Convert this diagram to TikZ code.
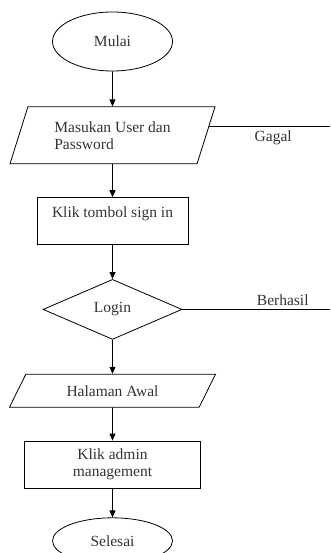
\documentclass[tikz,border=0pt]{standalone}
\usepackage{fontspec}
\setmainfont{Liberation Serif}
\usepackage{tikz}
\usetikzlibrary{arrows.meta, positioning, shapes.geometric, calc}
\tikzset{%
	term/.style={draw, ellipse, minimum width=120pt, minimum height=59pt, inner sep=0pt},
	io/.style={draw, trapezium, trapezium stretches body, inner sep=2pt, align=left},
	proc/.style={draw, rectangle, inner sep=2pt, align=center},
	dec/.style={draw, diamond, minimum width=139pt, minimum height=60pt, inner sep=0pt},
	flow/.style={-{Triangle[length=7pt,width=6pt]}},
	branch/.style={},
	lbl/.style={inner sep=3pt}
}

\begin{document}
\begin{tikzpicture}[x=1pt, y=1pt, line width=0.8pt, font=\fontsize{15.5}{17}\selectfont, text=black!80]
		\useasboundingbox (0,0) rectangle (330,-553);
		\node[term] (mulai) at (112.5,-41.5) {Mulai};
		\node[io, trapezium left angle=60.7, trapezium right angle=119.3, minimum width=205pt, minimum height=57pt] (masukan) [below=35pt of mulai] {Masukan User dan\\Password};
		\node[proc, minimum width=151pt, minimum height=47pt] (klik) [below=33pt of masukan] {Klik tombol sign in\\\mbox{}};
		\node[dec] (login) [below=34pt of klik] {Login};
		\node[io, trapezium left angle=42.4, trapezium right angle=137.6, minimum width=206pt, minimum height=33pt] (halaman) [below=34pt of login] {Halaman Awal};
		\node[proc, minimum width=176pt, minimum height=47pt] (admin) [below=33pt of halaman] {Klik admin\\management};
		\node[term, minimum height=46pt] (selesai) [below=29pt of admin] {Selesai};
		\coordinate (edge) at (330,0);
		\draw [flow] (mulai) to (masukan);
		\draw [flow] (masukan) to (klik);
		\draw [flow] (klik) to (login);
		\draw [flow] (login) to (halaman);
		\draw [flow] (halaman) to (admin);
		\draw [flow] (admin) to (selesai);
		\draw [branch] (masukan.5) to node[lbl, below, pos=0.53]{Gagal} (masukan.5 -| edge);
		\draw [branch] (login.east) to node[lbl, above, pos=0.68]{Berhasil} (login.east -| edge);

	\end{tikzpicture}
\end{document}
